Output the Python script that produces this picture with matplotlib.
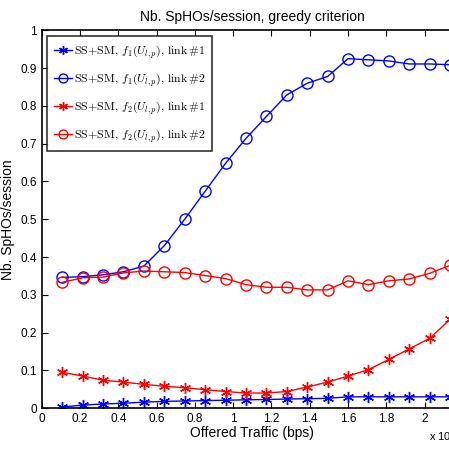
import numpy as np
import matplotlib
matplotlib.use("Agg")
import matplotlib.pyplot as plt
from matplotlib.ticker import FuncFormatter

plt.rcParams["font.family"] = ["Liberation Sans", "DejaVu Sans"]
plt.rcParams["mathtext.fontset"] = "cm"

# offered traffic (bps), 20 load points
traffic = np.arange(1, 21) * 1.6e6 / 15

f1_link1 = [0.003, 0.008, 0.011, 0.013, 0.016, 0.018, 0.019, 0.020, 0.021, 0.022,
            0.023, 0.024, 0.025, 0.026, 0.030, 0.030, 0.030, 0.030, 0.030, 0.030]
f1_link2 = [0.346, 0.348, 0.353, 0.361, 0.376, 0.430, 0.500, 0.574, 0.648, 0.714,
            0.772, 0.829, 0.860, 0.878, 0.925, 0.922, 0.919, 0.911, 0.911, 0.909]
f2_link1 = [0.095, 0.085, 0.074, 0.069, 0.063, 0.058, 0.054, 0.049, 0.044, 0.040,
            0.040, 0.044, 0.056, 0.069, 0.085, 0.102, 0.129, 0.157, 0.185, 0.235]
f2_link2 = [0.333, 0.345, 0.347, 0.358, 0.363, 0.361, 0.359, 0.351, 0.343, 0.327,
            0.320, 0.320, 0.313, 0.313, 0.337, 0.327, 0.337, 0.342, 0.357, 0.378]

labels = [
    r"$\mathrm{SS\!+\!SM},\,f_1(U_{l,p}),\,\mathrm{link}\,\#1$",
    r"$\mathrm{SS\!+\!SM},\,f_1(U_{l,p}),\,\mathrm{link}\,\#2$",
    r"$\mathrm{SS\!+\!SM},\,f_2(U_{l,p}),\,\mathrm{link}\,\#1$",
    r"$\mathrm{SS\!+\!SM},\,f_2(U_{l,p}),\,\mathrm{link}\,\#2$",
]

star = (6, 2, 0)

fig = plt.figure(figsize=(4.49, 4.53), dpi=100)
ax = fig.add_axes([0.093, 0.099, 0.938, 0.834])

ax.plot(traffic, f1_link1, color="#0000ff", lw=1, marker=star, ms=8, mew=1, label=labels[0])
ax.plot(traffic, f1_link2, color="#0000ff", lw=1, marker="o", ms=8, mew=1,
        fillstyle="none", label=labels[1])
ax.plot(traffic, f2_link1, color="#ff0000", lw=1, marker=star, ms=8, mew=1, label=labels[2])
ax.plot(traffic, f2_link2, color="#ff0000", lw=1, marker="o", ms=8, mew=1,
        fillstyle="none", label=labels[3])

ax.set_xlim(0, 2.2e6)
ax.set_ylim(0, 1)
ax.set_xticks(np.arange(0, 2.2e6, 0.2e6))
ax.set_yticks(np.arange(0, 1.01, 0.1))
ax.xaxis.set_major_formatter(FuncFormatter(lambda v, p: f"{v / 1e6:g}"))
ax.yaxis.set_major_formatter(FuncFormatter(lambda v, p: f"{v:g}"))
ax.tick_params(direction="in", top=True, right=True, labelsize=8.5, length=4, width=0.8)
for s in ax.spines.values():
    s.set_linewidth(1.2)

ax.set_title("Nb. SpHOs/session, greedy criterion", fontsize=10, pad=7)
ax.set_xlabel("Offered Traffic (bps)", fontsize=10, labelpad=1)
ax.set_ylabel("Nb. SpHOs/session", fontsize=10, labelpad=4)
fig.text(0.955, 0.027, r"x 10$^6$", fontsize=8)

leg = ax.legend(loc="upper left", fontsize=8.5, frameon=True, fancybox=False,
                edgecolor="black", borderaxespad=0.45, handlelength=1.5,
                handletextpad=0.15, labelspacing=0.95, borderpad=0.6, markerscale=0.8)
leg.get_frame().set_linewidth(1.2)

fig.savefig("out.png", dpi=100)
